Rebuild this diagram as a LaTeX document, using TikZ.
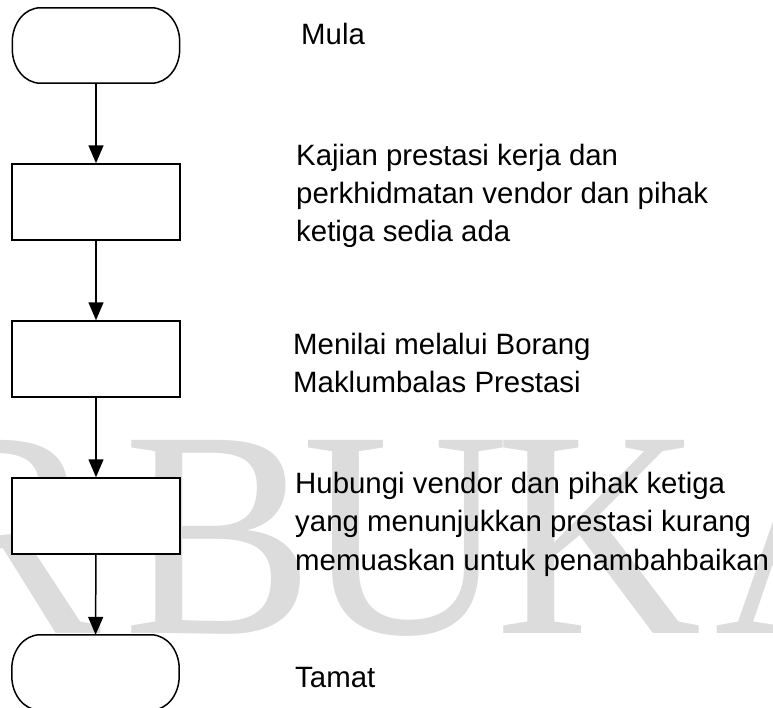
\documentclass[tikz,border=0pt]{standalone}
\usepackage{fontspec}
\setmainfont{Liberation Sans}
\newfontfamily\wmfont{Liberation Serif}
\usetikzlibrary{arrows.meta}
\definecolor{wmgray}{HTML}{DCDCDC}
\newcommand{\termoutline}[1]{%
  \filldraw[line width=1.5pt,fill=white]
    ([xshift=28pt]#1.north west) -- ([xshift=-28pt]#1.north east)
    arc[start angle=90,end angle=0,x radius=28pt,y radius=34pt]
    -- ([yshift=34pt]#1.south east)
    arc[start angle=0,end angle=-90,x radius=28pt,y radius=34pt]
    -- ([xshift=28pt]#1.south west)
    arc[start angle=270,end angle=180,x radius=28pt,y radius=34pt]
    -- ([yshift=-34pt]#1.north west)
    arc[start angle=180,end angle=90,x radius=28pt,y radius=34pt] -- cycle;}
\begin{document}
\begin{tikzpicture}[x=1pt,y=-1pt,
  wm/.style={anchor=base west,inner sep=0pt,text=wmgray,font=\wmfont\fontsize{295}{300}\selectfont,xscale=0.97},
  terminal/.style={inner sep=0pt,minimum width=167pt,minimum height=75pt},
  procbox/.style={draw,line width=1.5pt,fill=white,minimum width=168pt,minimum height=76pt,inner sep=0pt},
  flow/.style={line width=1.5pt,-{Triangle[length=18pt,width=15pt]}},
  lbl/.style={anchor=base west,inner sep=0pt,font=\fontsize{29.4}{34}\selectfont}]
\useasboundingbox (0,0) rectangle (773,707);
\clip (0,0) rectangle (773,707);
% watermark
\node[wm] (wR) at (-90,633) {R};
\node[wm] (wB) at (123,633) {B};
\node[wm] (wU) at (302,633) {U};
\node[wm] (wK) at (495,633) {K};
\node[wm] (wA) at (714,633) {A};
% shapes
\node[terminal] (start) at (96,45.5) {};
\termoutline{start}
\node[procbox] (p1) at (96,202) {};
\node[procbox] (p2) at (96,359) {};
\node[procbox] (p3) at (96,516) {};
\node[terminal] (stop) at (95.5,672.5) {};
\termoutline{stop}
\draw[flow] (start) -- (p1);
\draw[flow] (p1) -- (p2);
\draw[flow] (p2) -- (p3);
\draw[flow] (p3) -- (stop);
% labels
\node[lbl] (l1) at (301,44) {Mula};
\node[lbl] (l2a) at (296,165) {Kajian prestasi kerja dan};
\node[lbl] (l2b) at (296,203) {perkhidmatan vendor dan pihak};
\node[lbl] (l2c) at (296,241) {ketiga sedia ada};
\node[lbl] (l3a) at (293,354) {Menilai melalui Borang};
\node[lbl] (l3b) at (293,392) {Maklumbalas Prestasi};
\node[lbl] (l4a) at (295,493) {Hubungi vendor dan pihak ketiga};
\node[lbl] (l4b) at (295,531.5) {yang menunjukkan prestasi kurang};
\node[lbl] (l4c) at (295,570) {memuaskan untuk penambahbaikan};
\node[lbl] (l5) at (295,687) {Tamat};
\end{tikzpicture}
\end{document}
